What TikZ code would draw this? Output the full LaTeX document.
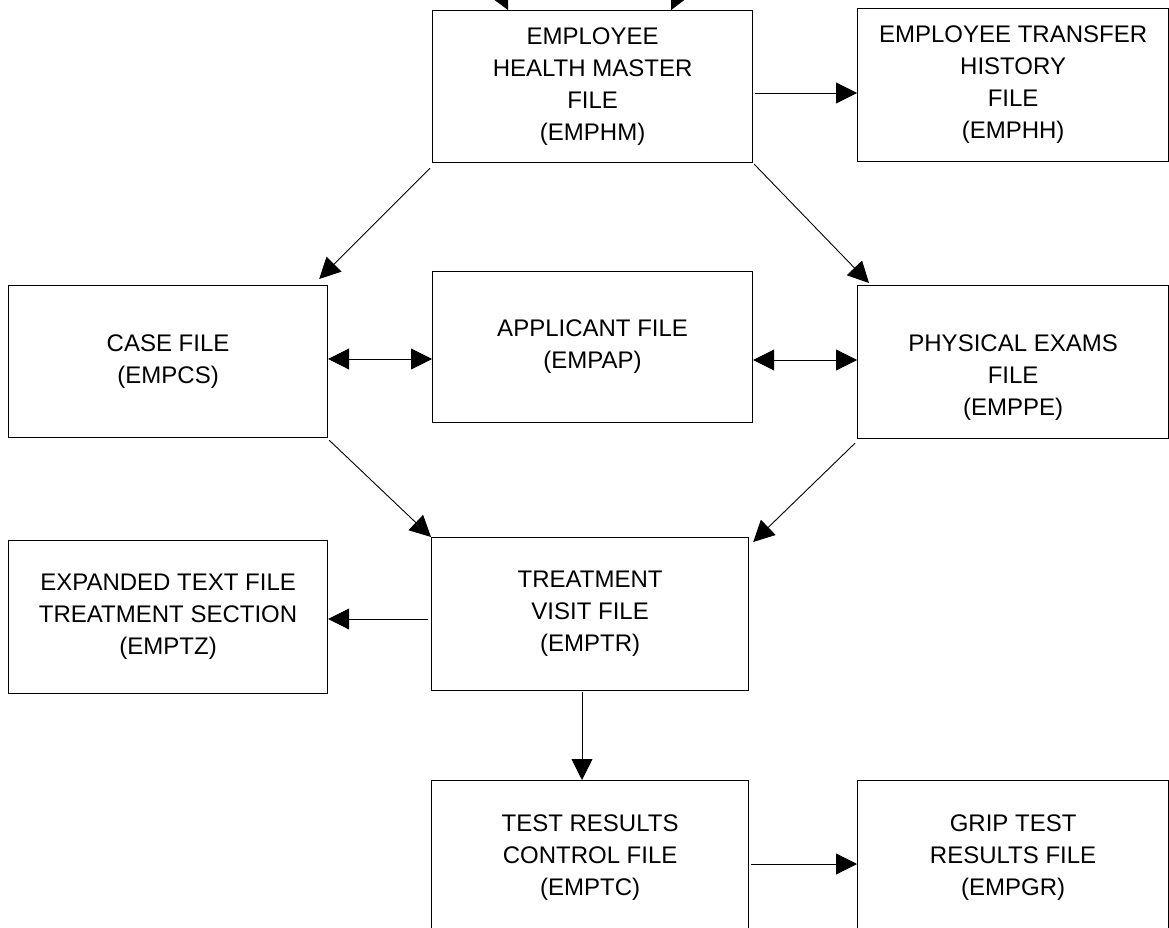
\documentclass[tikz,border=0pt]{standalone}
\usepackage{fontspec}
\setmainfont{Liberation Sans}
\usetikzlibrary{arrows.meta}
\begin{document}
\begin{tikzpicture}[x=1pt,y=-1pt,
  filebox/.style={draw=black, line width=1.2pt, rectangle, anchor=north west,
    inner sep=0pt, align=center, font=\fontsize{24}{32}\selectfont},
  ftext/.style={align=center, inner sep=0pt, font=\fontsize{24}{32}\selectfont},
  arr/.style={line width=0.9pt, -{Triangle[length=21pt,width=21pt]}},
  darr/.style={line width=0.9pt, {Triangle[length=21pt,width=21pt]}-{Triangle[length=21pt,width=21pt]}}]
\useasboundingbox (0,0) rectangle (1169,928);
\clip (0,0) rectangle (1169,928);
\fill[white] (0,0) rectangle (1169,928);

% file boxes
\node[filebox, minimum width=320pt, minimum height=152pt] (hm) at (432,10)
  {EMPLOYEE\\HEALTH MASTER\\FILE\\(EMPHM)};
\node[filebox, minimum width=311pt, minimum height=153pt] (hh) at (857,8)
  {EMPLOYEE TRANSFER\\HISTORY\\FILE\\(EMPHH)};
\node[filebox, minimum width=319pt, minimum height=152pt] (cs) at (8,285)
  {CASE FILE\\(EMPCS)};
\node[filebox, minimum width=320pt, minimum height=151pt] (ap) at (432,271)
  {APPLICANT FILE\\(EMPAP)};
\node[filebox, minimum width=311pt, minimum height=153pt] (pe) at (857,285) {};
\node[ftext] (petext) at ([shift={(0,16)}]pe.center) {PHYSICAL EXAMS\\FILE\\(EMPPE)};
\node[filebox, minimum width=319pt, minimum height=153pt] (ez) at (8,540)
  {EXPANDED TEXT FILE\\TREATMENT SECTION\\(EMPTZ)};
\node[filebox, minimum width=317pt, minimum height=153pt] (tr) at (431,537)
  {TREATMENT\\VISIT FILE\\(EMPTR)};
\node[filebox, minimum width=317pt, minimum height=153pt] (tc) at (431,780)
  {TEST RESULTS\\CONTROL FILE\\(EMPTC)};
\node[filebox, minimum width=311pt, minimum height=153pt] (gr) at (857,780)
  {GRIP TEST\\RESULTS FILE\\(EMPGR)};

% incoming links from above
\coordinate (inL) at (468,-70);
\coordinate (inR) at (710,-70);
\draw[arr] (inL) -- ([shift={(76,0)}]hm.north west);
\draw[arr] (inR) -- ([shift={(-82,0)}]hm.north east);

% links between files
\draw[arr] ([shift={(2,83)}]hm.north east) -- ([shift={(0,85)}]hh.north west);
\draw[arr] ([shift={(-2,5)}]hm.south west) -- ([shift={(-9,-6)}]cs.north east);
\draw[arr] ([shift={(1,1)}]hm.south east) -- ([shift={(12,-2)}]pe.north west);
\draw[darr] ([shift={(0,74)}]cs.north east) -- ([shift={(0,88)}]ap.north west);
\draw[darr] ([shift={(0,89)}]ap.north east) -- ([shift={(0,75)}]pe.north west);
\draw[arr] ([shift={(1,2)}]cs.south east) -- (tr.north west);
\draw[arr] ([shift={(-2,4)}]pe.south west) -- ([shift={(4,5)}]tr.north east);
\draw[arr] ([shift={(-3,82)}]tr.north west) -- ([shift={(0,79)}]ez.north east);
\draw[arr] ([shift={(151,1)}]tr.south west) -- ([shift={(151,0)}]tc.north west);
\draw[arr] ([shift={(2,84)}]tc.north east) -- ([shift={(0,84)}]gr.north west);
\end{tikzpicture}
\end{document}
